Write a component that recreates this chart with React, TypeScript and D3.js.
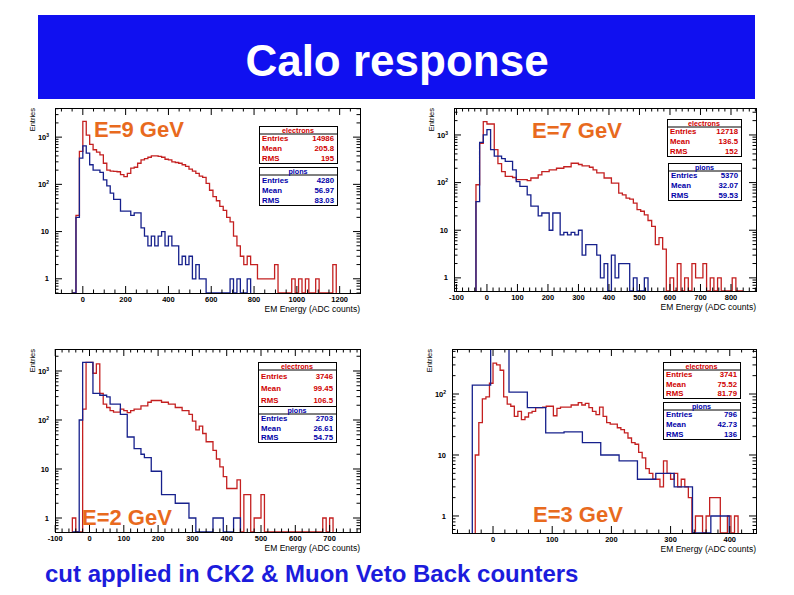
import React from 'react';
import * as d3 from 'd3';

// ---------------- Data ----------------
const statNames = ['Entries', 'Mean', 'RMS'];
const seriesNames = ['electrons', 'pions'];
const beamLabels = ['E=9 GeV', 'E=7 GeV', 'E=2 GeV', 'E=3 GeV'];

// E = 9 GeV
const e9ElectronStart = -48;
const e9ElectronWidth = 16;
const e9Electrons = [
  0, 22, 500, 2150, 1100, 700, 540, 480, 420, 280,
  200, 190, 188, 185, 160, 146, 170, 220, 230, 280,
  330, 350, 375, 400, 400, 390, 375, 340, 330, 300,
  290, 280, 260, 240, 210, 190, 170, 150, 140, 105,
  75, 55, 45, 34, 28, 20, 16, 8, 5, 3,
  2, 3, 2, 2, 1, 1, 1, 1, 1, 2,
  0, 0, 0, 0, 1, 0, 1, 0, 1, 0,
  0, 1, 0, 0, 0, 0, 2,
];
const e9PionStart = -48;
const e9PionWidth = 16;
const e9Pions = [
  0, 20, 360, 650, 460, 260, 200, 200, 180, 125,
  93, 65, 48, 48, 27, 27, 27, 22, 25, 25,
  12, 8, 5, 8, 5, 8, 10, 5, 8, 5,
  5, 2, 3, 2, 3, 1, 2, 1, 1, 0,
  0, 0, 0, 0, 0, 0, 1, 0, 1, 0,
  0, 1,
];
const e9ElectronStats = ['14986', '205.8', '195'];
const e9PionStats = ['4280', '56.97', '83.03'];
const e9XTicks = [0, 200, 400, 600, 800, 1000, 1200];

// E = 7 GeV
const e7ElectronStart = -36;
const e7ElectronWidth = 12;
const e7Electrons = [
  90, 670, 1900, 1700, 1700, 490, 250, 170, 135, 135,
  128, 115, 115, 115, 110, 125, 125, 145, 170, 170,
  185, 185, 200, 200, 215, 215, 255, 255, 240, 225,
  225, 210, 185, 160, 160, 125, 125, 97, 97, 60,
  55, 47, 45, 37, 27, 25, 21, 16, 12, 5,
  7, 4, 0, 1, 0, 2, 0, 1, 0, 2,
  1, 1, 2, 0, 1, 0, 1, 0, 0, 0,
  1, 0, 0,
];
const e7PionStart = -36;
const e7PionWidth = 12;
const e7Pions = [
  40, 700, 1000, 1300, 490, 360, 360, 320, 280, 280,
  185, 105, 83, 83, 55, 32, 32, 20, 23, 23,
  10, 23, 23, 8, 9, 8, 9, 8, 10, 3,
  5, 5, 5, 3, 1, 2, 0, 3, 1, 2,
  2, 2, 0, 1, 0, 0, 1,
];
const e7ElectronStats = ['12718', '136.5', '152'];
const e7PionStats = ['5370', '32.07', '59.53'];
const e7XTicks = [-100, 0, 100, 200, 300, 400, 500, 600, 700, 800];

// E = 2 GeV
const e2ElectronStart = -50;
const e2ElectronWidth = 10;
const e2Electrons = [
  1, 0, 0, 166, 1500, 1500, 900, 1400, 350, 210,
  180, 155, 145, 145, 166, 155, 142, 155, 166, 166,
  195, 195, 230, 250, 250, 250, 230, 230, 210, 210,
  180, 180, 155, 155, 130, 95, 63, 75, 53, 36,
  36, 24, 16, 11, 7, 4, 4, 4, 6, 0,
  3, 3, 0, 1, 1, 3, 0, 0, 0, 0,
  0, 0, 0, 0, 0, 0, 0, 0, 0, 0,
  0, 0, 0, 1, 0, 1,
];
const e2PionStart = -50;
const e2PionWidth = 10;
const e2Pions = [
  0, 0, 100, 1500, 1500, 1500, 350, 350, 320, 320,
  295, 210, 210, 210, 130, 130, 45, 45, 26, 26,
  20, 17, 17, 9, 9, 9, 3, 3, 3, 3,
  2, 2, 2, 2, 1, 1, 0, 0, 0, 0,
  0, 1, 1, 1, 0, 0, 0, 1, 1,
];
const e2ElectronStats = ['3746', '99.45', '106.5'];
const e2PionStats = ['2703', '26.61', '54.75'];
const e2XTicks = [-100, 0, 100, 200, 300, 400, 500, 600, 700];

// E = 3 GeV
const e3ElectronStart = -30;
const e3ElectronWidth = 6;
const e3Electrons = [
  10, 34, 83, 90, 150, 320, 300, 245, 90, 68,
  63, 43, 52, 38, 42, 49, 52, 60, 60, 61,
  63, 63, 44, 58, 61, 61, 61, 66, 66, 72,
  66, 70, 60, 52, 46, 61, 43, 34, 32, 32,
  28, 26, 23, 19, 16, 15, 11, 9, 6, 5,
  4, 4, 3, 8, 5, 4, 5, 3, 4, 3,
  2, 0, 1, 1, 0, 1, 2, 2, 2, 0,
  0, 1, 0, 1,
];
const e3PionStart = -35;
const e3PionWidth = 31;
const e3Pions = [140, 800, 107, 60, 23, 24, 16, 10, 8, 4, 5, 3, 0, 1];
const e3ElectronStats = ['3741', '75.52', '81.79'];
const e3PionStats = ['796', '42.73', '136'];
const e3XTicks = [0, 100, 200, 300, 400];

// ---------------- Layout / style ----------------
const FONT = '"Liberation Sans", Arial, Helvetica, sans-serif';
const RED = '#c42020';
const BLUE = '#16208c';
const RED_TXT = '#d00000';
const BLUE_TXT = '#0000a8';
const ORANGE = '#e86a1e';

type Hist = { start: number; width: number; counts: number[] };
type Box = { x: number; y: number; w: number; h: number };
type PanelCfg = {
  frame: Box;
  xDomain: [number, number];
  yDomain: [number, number];
  xTicks: number[];
  xMinor: number;
  electrons: Hist;
  pions: Hist;
  eStats: string[];
  pStats: string[];
  eBox: Box;
  pBox: Box;
  label: string;
  labelX: number;
  labelY: number;
};

const panels: PanelCfg[] = [
  {
    frame: { x: 55, y: 108, w: 305, h: 185 },
    xDomain: [-130, 1295],
    yDomain: [0.5, 4140],
    xTicks: e9XTicks,
    xMinor: 50,
    electrons: { start: e9ElectronStart, width: e9ElectronWidth, counts: e9Electrons },
    pions: { start: e9PionStart, width: e9PionWidth, counts: e9Pions },
    eStats: e9ElectronStats,
    pStats: e9PionStats,
    eBox: { x: 259, y: 126, w: 78, h: 37 },
    pBox: { x: 259, y: 167, w: 78, h: 38 },
    label: beamLabels[0],
    labelX: 94,
    labelY: 137,
  },
  {
    frame: { x: 454, y: 108, w: 302, h: 183 },
    xDomain: [-108, 882],
    yDomain: [0.53, 3680],
    xTicks: e7XTicks,
    xMinor: 20,
    electrons: { start: e7ElectronStart, width: e7ElectronWidth, counts: e7Electrons },
    pions: { start: e7PionStart, width: e7PionWidth, counts: e7Pions },
    eStats: e7ElectronStats,
    pStats: e7PionStats,
    eBox: { x: 667, y: 119, w: 74, h: 37 },
    pBox: { x: 668, y: 163, w: 73, h: 37 },
    label: beamLabels[1],
    labelX: 532,
    labelY: 138,
  },
  {
    frame: { x: 55, y: 349, w: 305, h: 183 },
    xDomain: [-100.6, 788.6],
    yDomain: [0.518, 2810],
    xTicks: e2XTicks,
    xMinor: 20,
    electrons: { start: e2ElectronStart, width: e2ElectronWidth, counts: e2Electrons },
    pions: { start: e2PionStart, width: e2PionWidth, counts: e2Pions },
    eStats: e2ElectronStats,
    pStats: e2PionStats,
    eBox: { x: 258, y: 362, w: 78, h: 44 },
    pBox: { x: 258, y: 406, w: 78, h: 36 },
    label: beamLabels[2],
    labelX: 82,
    labelY: 525,
  },
  {
    frame: { x: 452, y: 349, w: 304, h: 184 },
    xDomain: [-69.3, 444.3],
    yDomain: [0.526, 547],
    xTicks: e3XTicks,
    xMinor: 20,
    electrons: { start: e3ElectronStart, width: e3ElectronWidth, counts: e3Electrons },
    pions: { start: e3PionStart, width: e3PionWidth, counts: e3Pions },
    eStats: e3ElectronStats,
    pStats: e3PionStats,
    eBox: { x: 663, y: 362, w: 77, h: 36 },
    pBox: { x: 663, y: 402, w: 77, h: 37 },
    label: beamLabels[3],
    labelX: 533,
    labelY: 522,
  },
];

function StatBox({ box, title, values, color }: { box: Box; title: string; values: string[]; color: string }) {
  const titleH = 7.5;
  const rowH = (box.h - titleH) / 3;
  return (
    <g fontFamily={FONT} fontWeight="bold" fontSize={7.8}>
      <rect x={box.x + 0.5} y={box.y + 0.5} width={box.w} height={box.h} fill="white" stroke="black" strokeWidth={1} />
      <line x1={box.x} x2={box.x + box.w} y1={box.y + titleH + 0.5} y2={box.y + titleH + 0.5} stroke="black" strokeWidth={1} />
      <text x={box.x + box.w / 2} y={box.y + titleH - 0.6} textAnchor="middle" fill={color} fontSize={7.2}>{title}</text>
      {statNames.map((n, i) => {
        const by = box.y + titleH + rowH * (i + 0.5) + 3;
        return (
          <g key={n}>
            <text x={box.x + 3} y={by} fill={color}>{n}</text>
            <text x={box.x + box.w - 3} y={by} textAnchor="end" fill={color}>{values[i]}</text>
          </g>
        );
      })}
    </g>
  );
}

function PanelView({ p, id }: { p: PanelCfg; id: number }) {
  const { x: fx, y: fy, w, h } = p.frame;
  const bottom = fy + h;
  const xs = d3.scaleLinear().domain(p.xDomain).range([fx, fx + w]);
  const ys = d3.scaleLog().domain(p.yDomain).range([bottom, fy]);

  const histPath = (s: Hist) => {
    const yv = (c: number) => (c > 0 ? ys(c) : bottom);
    const pts: [number, number][] = [[xs(s.start), bottom]];
    s.counts.forEach((c, i) => {
      const x0 = xs(s.start + i * s.width);
      const x1 = xs(s.start + (i + 1) * s.width);
      pts.push([x0, yv(c)], [x1, yv(c)]);
    });
    pts.push([xs(s.start + s.counts.length * s.width), bottom]);
    return d3.line()(pts) || '';
  };

  const [d0, d1] = p.xDomain;
  const minorX = d3.range(Math.ceil(d0 / p.xMinor) * p.xMinor, d1, p.xMinor).filter((v) => !p.xTicks.includes(v));
  const [l0, l1] = p.yDomain;
  const decades = d3.range(Math.floor(Math.log10(l0)), Math.ceil(Math.log10(l1)) + 1);
  const majorY = decades.map((n) => Math.pow(10, n)).filter((v) => v >= l0 && v <= l1);
  const minorY: number[] = [];
  decades.forEach((n) => {
    for (let k = 2; k <= 9; k++) {
      const v = k * Math.pow(10, n);
      if (v >= l0 && v <= l1) minorY.push(v);
    }
  });
  const MAJ = 7;
  const MIN = 3.5;
  const clipId = `clip-${id}`;

  const yLabel = (v: number) => {
    const n = Math.round(Math.log10(v));
    if (n === 0) return <tspan>1</tspan>;
    if (n === 1) return <tspan>10</tspan>;
    return (
      <>
        <tspan>10</tspan>
        <tspan dy={-3} fontSize={5}>{n}</tspan>
      </>
    );
  };

  return (
    <g>
      <defs>
        <clipPath id={clipId}>
          <rect x={fx} y={fy} width={w} height={h} />
        </clipPath>
      </defs>
      <g clipPath={`url(#${clipId})`} fill="none" strokeWidth={1.3}>
        <path d={histPath(p.electrons)} stroke={RED} />
        <path d={histPath(p.pions)} stroke={BLUE} />
      </g>
      <rect x={fx + 0.5} y={fy + 0.5} width={w} height={h} fill="none" stroke="black" strokeWidth={1} />
      <g stroke="black" strokeWidth={1}>
        {p.xTicks.map((v) => (
          <g key={`xM${v}`}>
            <line x1={xs(v)} x2={xs(v)} y1={bottom} y2={bottom - MAJ} />
            <line x1={xs(v)} x2={xs(v)} y1={fy} y2={fy + MAJ} />
          </g>
        ))}
        {minorX.map((v) => (
          <g key={`xm${v}`}>
            <line x1={xs(v)} x2={xs(v)} y1={bottom} y2={bottom - MIN} />
            <line x1={xs(v)} x2={xs(v)} y1={fy} y2={fy + MIN} />
          </g>
        ))}
        {majorY.map((v) => (
          <g key={`yM${v}`}>
            <line x1={fx} x2={fx + MAJ} y1={ys(v)} y2={ys(v)} />
            <line x1={fx + w} x2={fx + w - MAJ} y1={ys(v)} y2={ys(v)} />
          </g>
        ))}
        {minorY.map((v) => (
          <g key={`ym${v}`}>
            <line x1={fx} x2={fx + MIN} y1={ys(v)} y2={ys(v)} />
            <line x1={fx + w} x2={fx + w - MIN} y1={ys(v)} y2={ys(v)} />
          </g>
        ))}
      </g>
      <g fontFamily={FONT} fontWeight="bold" fontSize={7.5} fill="black">
        {p.xTicks.map((v) => (
          <text key={`xl${v}`} x={xs(v)} y={bottom + 9} textAnchor="middle">{v}</text>
        ))}
        {majorY.map((v) => (
          <text key={`yl${v}`} x={fx - 6} y={ys(v) + 2.6} textAnchor="end">{yLabel(v)}</text>
        ))}
      </g>
      <text x={fx + w} y={bottom + 18.5} textAnchor="end" fontFamily={FONT} fontSize={8.5} fill="black">EM Energy (ADC counts)</text>
      <text transform={`translate(${fx - 20},${fy}) rotate(-90)`} textAnchor="end" fontFamily={FONT} fontSize={7.5} fill="black">Entries</text>
      <StatBox box={p.eBox} title={seriesNames[0]} values={p.eStats} color={RED_TXT} />
      <StatBox box={p.pBox} title={seriesNames[1]} values={p.pStats} color={BLUE_TXT} />
      <text x={p.labelX} y={p.labelY} fontFamily={FONT} fontWeight="bold" fontSize={22} fill={ORANGE}>{p.label}</text>
    </g>
  );
}

export default function App() {
  return (
    <svg width={794} height={595} viewBox="0 0 794 595" style={{ position: 'absolute', left: 0, top: 0, background: 'white' }}>
      <rect x={0} y={0} width={794} height={595} fill="white" />
      <rect x={38} y={15} width={717} height={84} fill="#1010f0" />
      <text x={397} y={76} textAnchor="middle" fontFamily={FONT} fontWeight="bold" fontSize={44} fill="white">Calo response</text>
      {panels.map((p, i) => (
        <PanelView key={i} p={p} id={i} />
      ))}
      <text x={45} y={582} fontFamily={FONT} fontWeight="bold" fontSize={24} fill="#1c1cdc">cut applied in CK2 &amp; Muon Veto Back counters</text>
    </svg>
  );
}
